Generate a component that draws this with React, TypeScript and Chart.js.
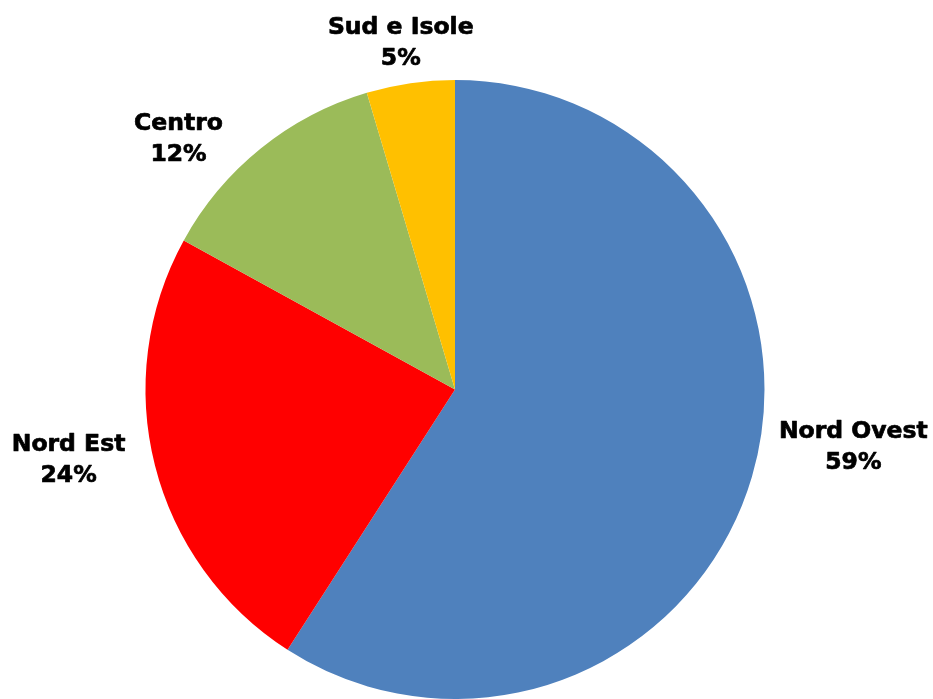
import React, { useEffect, useRef } from "react";
import { Chart, registerables } from "chart.js";

Chart.register(...registerables);

const categories = ["Nord Ovest", "Nord Est", "Centro", "Sud e Isole"];
const shares = [59.1, 23.9, 12.4, 4.6];
const percentLabels = ["59%", "24%", "12%", "5%"];
const colors = ["#4F81BD", "#FF0000", "#9BBB59", "#FFC000"];

// label placement tweaks (style, not data)
const labelNudge: [number, number][] = [
  [13, -55],
  [-14, -23],
  [-42, 41],
  [-2, 13],
];

const outsideLabels = {
  id: "outsideLabels",
  afterDraw(chart: any) {
    const ctx = chart.ctx as CanvasRenderingContext2D;
    const meta = chart.getDatasetMeta(0);
    ctx.save();
    ctx.font = "bold 23.5px 'DejaVu Sans'";
    ctx.fillStyle = "#000";
    ctx.strokeStyle = "#000";
    ctx.lineWidth = 0.7;
    ctx.lineJoin = "round";
    ctx.textAlign = "center";
    ctx.textBaseline = "middle";
    const lineH = 31;
    meta.data.forEach((arc: any, i: number) => {
      const p = arc.getProps(["x", "y", "startAngle", "endAngle", "outerRadius"], true);
      const mid = (p.startAngle + p.endAngle) / 2;
      const dx = Math.cos(mid);
      const dy = Math.sin(mid);
      const lines = [categories[i], percentLabels[i]];
      const w = Math.max(...lines.map((l) => ctx.measureText(l).width));
      const h = lineH * lines.length;
      const ext = (Math.abs(dx) * w) / 2 + (Math.abs(dy) * h) / 2;
      const gap = 12;
      const [nx, ny] = labelNudge[i];
      const cx = p.x + dx * (p.outerRadius + gap + ext) + nx;
      const cy = p.y + dy * (p.outerRadius + gap + ext) + ny;
      lines.forEach((l, j) => {
        const ly = cy + (j - (lines.length - 1) / 2) * lineH;
        ctx.fillText(l, cx, ly);
        ctx.strokeText(l, cx, ly);
      });
    });
    ctx.restore();
  },
};

export default function App() {
  const ref = useRef<HTMLCanvasElement | null>(null);
  useEffect(() => {
    if (!ref.current) return;
    const chart = new Chart(ref.current, {
      type: "pie",
      data: {
        labels: categories,
        datasets: [
          {
            data: shares,
            backgroundColor: colors,
            borderWidth: 0,
          },
        ],
      },
      options: {
        responsive: false,
        animation: false,
        layout: { padding: { top: 80, bottom: 0, left: 145, right: 168 } },
        plugins: {
          legend: { display: false },
          tooltip: { enabled: false },
        },
      },
      plugins: [outsideLabels],
    });
    return () => chart.destroy();
  }, []);
  return (
    <div style={{ position: "absolute", left: 0, top: 0, width: 933, height: 699, background: "#fff" }}>
      <canvas ref={ref} width={933} height={699} />
    </div>
  );
}
